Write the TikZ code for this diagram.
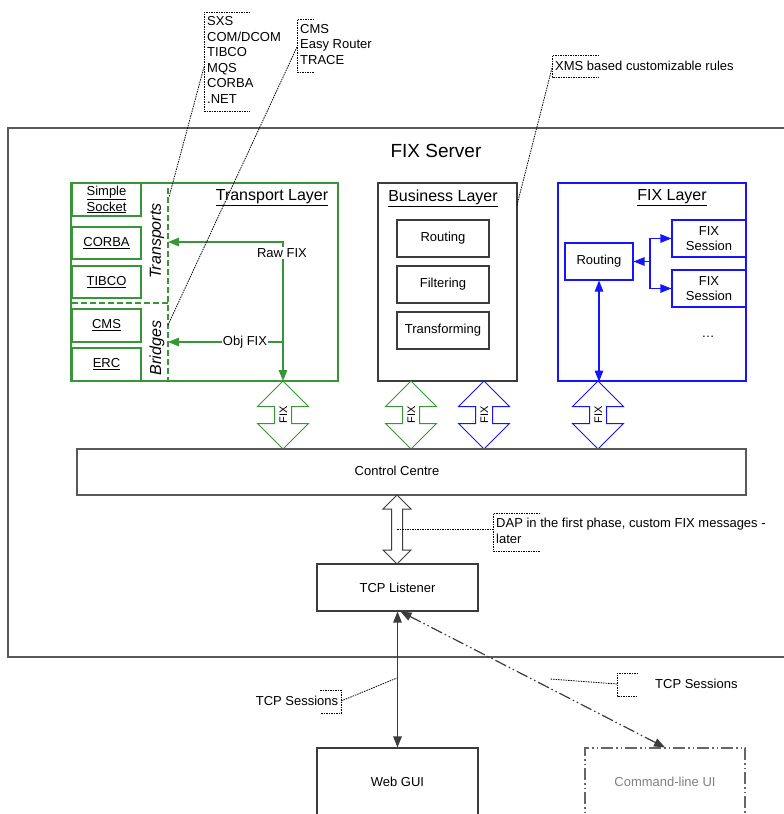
\documentclass[tikz,border=0pt]{standalone}
\usepackage{fontspec}
\setmainfont{Liberation Sans}
\usetikzlibrary{arrows.meta,shapes.arrows}

\definecolor{fixgreen}{RGB}{56,150,56}
\definecolor{fixblue}{RGB}{20,20,255}
\definecolor{boxgray}{RGB}{60,60,60}

\tikzset{
	txt/.style={font=\fontsize{13}{15.6}\selectfont, inner sep=0pt},
	title/.style={font=\fontsize{16}{19}\selectfont, inner sep=0pt},
	box/.style={draw=boxgray, line width=1.1pt, inner sep=0pt, align=center, font=\fontsize{13}{14.5}\selectfont},
	gbox/.style={box, draw=fixgreen},
	bbox/.style={box, draw=fixblue},
	layer/.style={draw, line width=1.3pt, inner sep=0pt},
	fatarrow/.style={double arrow, draw, fill=white, line width=1pt, rotate=90, minimum height=68pt, minimum width=0pt, double arrow head extend=17pt, inner xsep=2pt, inner ysep=4pt, text height=8pt, text depth=0pt, font=\fontsize{11}{11}\selectfont},
	twotip/.style={{Triangle[length=11pt,width=8.5pt]}-{Triangle[length=11pt,width=8.5pt]}},
	onetip/.style={-{Triangle[length=11pt,width=8.5pt]}},
	leader/.style={line width=0.8pt, dash pattern=on 1.5pt off 1pt},
	dashdotdot/.style={dash pattern=on 12pt off 3pt on 1.5pt off 3pt on 1.5pt off 3pt},
}

\begin{document}
\begin{tikzpicture}[x=1pt,y=-1pt]
	\useasboundingbox (0,0) rectangle (784,814);

	% server frame
	\node[layer, draw=gray!70!black, minimum width=782pt, minimum height=529pt] (srv) at (399,392.5) {};
	\node[font=\fontsize{19}{22}\selectfont, inner sep=0pt] (srvtitle) at (436,151) {FIX Server};

	% transport layer
	\node[layer, draw=fixgreen, minimum width=267pt, minimum height=198pt] (tl) at (204.5,282) {};
	\node[title] (tltitle) at (272,198) {\underline{Transport Layer}};
	\node[gbox, minimum width=69pt, minimum height=33pt] (sock) at (106.5,199.5) {\underline{Simple}\\[1.5pt]\underline{Socket}};
	\node[gbox, minimum width=69pt, minimum height=32pt] (corba) at (106.5,243) {\underline{CORBA}};
	\node[gbox, minimum width=69pt, minimum height=32pt] (tibco) at (106.5,282) {\underline{TIBCO}};
	\node[gbox, minimum width=69pt, minimum height=33pt] (cms) at (106.5,325.5) {\underline{CMS}};
	\node[gbox, minimum width=69pt, minimum height=33pt] (erc) at (106.5,364.5) {\underline{ERC}};
	\draw[fixgreen, line width=1.2pt, dash pattern=on 6pt off 3pt] (168,188) -- (168,381);
	\draw[fixgreen, line width=1.2pt, dash pattern=on 6pt off 3pt] (72,303) -- (168,303);
	\node[title, rotate=90, font=\fontsize{16}{19}\selectfont\itshape] (trlbl) at (157,241) {Transports};
	\node[title, rotate=90, font=\fontsize{16}{19}\selectfont\itshape] (brlbl) at (157,348) {Bridges};

	\coordinate (trbus) at (168,242);
	\coordinate (brbus) at (168,342);
	\coordinate (rawc) at (283,242);
	\coordinate (objc) at (283,342);
	\coordinate (tlout) at (283,381);
	\draw[fixgreen, line width=1.2pt, twotip] (trbus) -- (rawc) -- (tlout);
	\draw[fixgreen, line width=1.2pt, onetip] (objc) -- (brbus);
	\node[txt, fill=white, inner sep=1.5pt] (rawlbl) at (282,253) {Raw FIX};
	\node[txt, fill=white, inner sep=1pt] (objlbl) at (245,342) {Obj FIX};

	% business layer
	\node[layer, draw=boxgray, minimum width=139pt, minimum height=198pt] (bl) at (447.5,282) {};
	\node[title] (bltitle) at (443,198) {\underline{Business Layer}};
	\node[box, minimum width=92pt, minimum height=37pt] (brout) at (443,238.5) {Routing};
	\node[box, minimum width=92pt, minimum height=37pt] (bfilt) at (443,284.5) {Filtering};
	\node[box, minimum width=92pt, minimum height=37pt] (btrans) at (443,330.5) {Transforming};

	% fix layer
	\node[layer, draw=fixblue, minimum width=188pt, minimum height=198pt] (fl) at (652,282) {};
	\node[title] (fltitle) at (672,198) {\underline{FIX Layer}};
	\node[bbox, minimum width=68pt, minimum height=37pt] (fr) at (599,261.5) {Routing};
	\node[bbox, minimum width=74pt, minimum height=37pt] (fs1) at (709,238.5) {FIX\\Session};
	\node[bbox, minimum width=74pt, minimum height=37pt] (fs2) at (709,288.5) {FIX\\Session};
	\node[txt] (more) at (708,337) {\ldots};
	\coordinate (fjn) at (650,261.5);
	\draw[fixblue, line width=1.2pt, onetip] (fjn) -- (fr.east);
	\draw[fixblue, line width=1.2pt, twotip] (fs1.west) -- (fs1.west -| fjn) -- (fs2.west -| fjn) -- (fs2.west);
	\draw[fixblue, line width=1.2pt, twotip] (fr.south) -- (fr.south |- fl.south);

	% fix links to the control centre
	\node[fatarrow, draw=fixgreen] (tfix) at (283,415) {FIX};
	\node[fatarrow, draw=fixgreen] (bfix1) at (411,415) {FIX};
	\node[fatarrow, draw=fixblue] (bfix2) at (484,415) {FIX};
	\node[fatarrow, draw=fixblue] (ffix) at (598,415) {FIX};

	\node[box, line width=1.3pt, draw=gray!70!black, minimum width=669pt, minimum height=46pt] (cc) at (411.5,472) {};
	\node[txt] (cclbl) at (397,471) {Control Centre};

	\node[double arrow, draw=boxgray, fill=white, line width=1pt, rotate=90, minimum height=69pt, minimum width=0pt, double arrow head extend=8.5pt, inner sep=0pt, inner ysep=5pt, text height=0pt, text depth=0pt] (dap) at (397,529.5) {};

	\node[box, minimum width=161pt, minimum height=47pt] (tcp) at (397.5,587.5) {TCP Listener};
	\node[box, minimum width=161pt, minimum height=68pt] (web) at (397.5,782) {Web GUI};
	\node[box, draw=gray!80!black, dashdotdot, text=gray, minimum width=160pt, minimum height=68pt] (cli) at (665,782) {Command-line UI};

	\draw[boxgray, line width=1.2pt, twotip] (web.north) -- (tcp.south);
	\draw[boxgray, line width=1.2pt, dashdotdot, twotip] ([xshift=3pt]tcp.south) -- (cli.north);

	% notes
	\node[txt, anchor=west, align=left] (trnote) at (207,60) {SXS\\COM/DCOM\\TIBCO\\MQS\\CORBA\\.NET};
	\draw[leader] (250,12) -- (204,12) -- (204,111) -- (250,111);
	\draw[leader] (204,67) -- (169,197);

	\node[txt, anchor=west, align=left] (brnote) at (300,44.5) {CMS\\Easy Router\\TRACE};
	\draw[leader] (314,19) -- (297,19) -- (297,72) -- (314,72);
	\draw[leader] (297,47) -- (168,325);

	\node[txt, anchor=west] (xmsnote) at (555,66) {XMS based customizable rules};
	\draw[leader] (599,55) -- (552,55) -- (552,77) -- (599,77);
	\draw[leader] (552,68) -- (517,205);

	\node[txt, anchor=west, align=left] (dapnote) at (496,531) {DAP in the first phase, custom FIX messages -\\later};
	\draw[leader] (540,513) -- (493,513) -- (493,551) -- (540,551);
	\draw[leader] (dap.center) -- (dap.center -| 493,0);

	\node[txt] (tcpsl) at (297,701) {TCP Sessions};
	\draw[leader] (320,690) -- (341,690) -- (341,713) -- (320,713);
	\draw[leader] (341,701) -- (397,678);

	\node[txt, anchor=west] (tcpsr) at (655,683.5) {TCP Sessions};
	\draw[leader] (638,673) -- (617,673) -- (617,696) -- (638,696);
	\draw[leader] (617,684) -- (550,679);
\end{tikzpicture}
\end{document}
